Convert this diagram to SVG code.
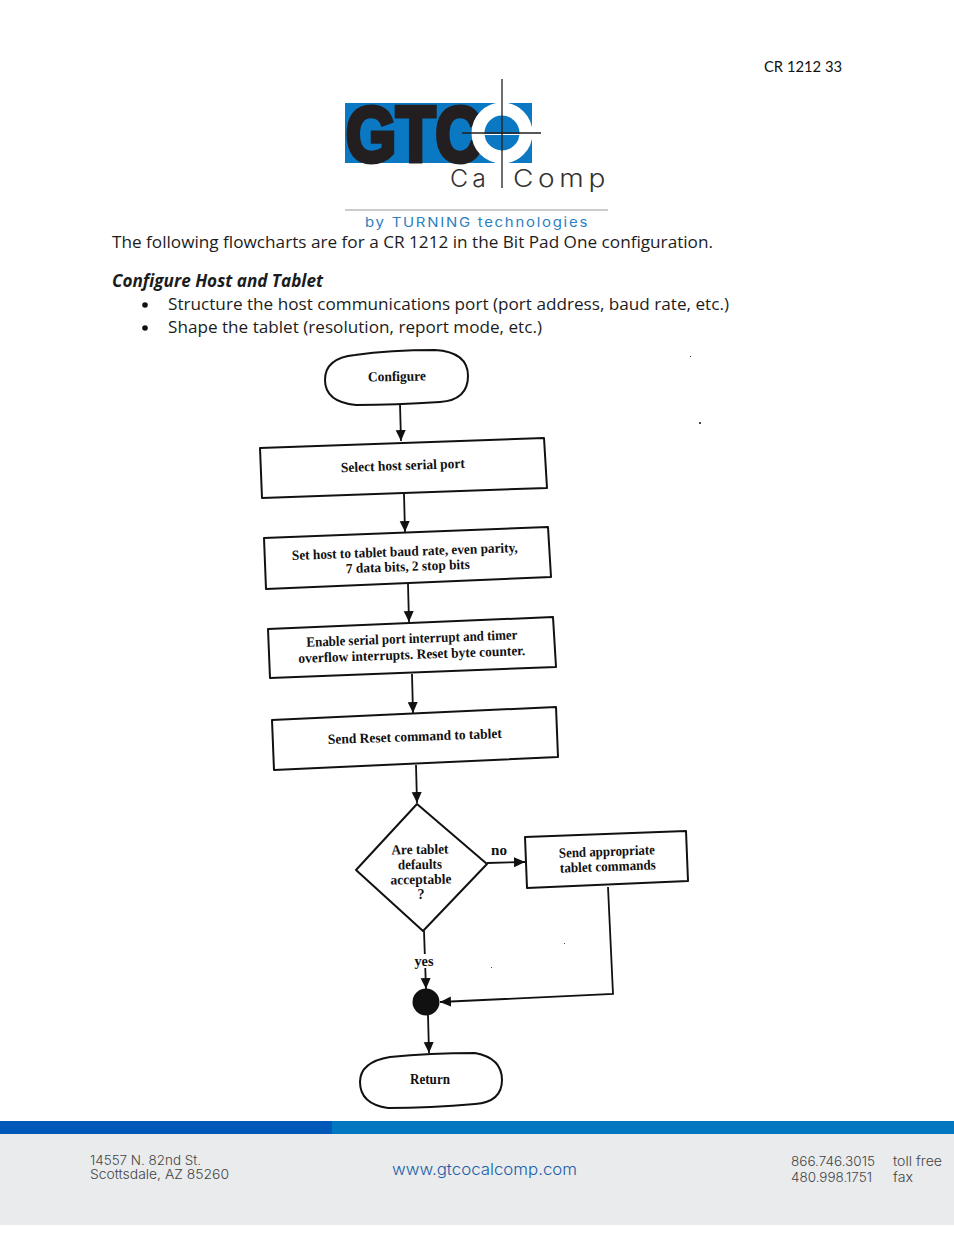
<svg xmlns="http://www.w3.org/2000/svg" width="954" height="1235" viewBox="0 0 954 1235">
<defs>
<marker id="arr" markerUnits="userSpaceOnUse" markerWidth="10" markerHeight="12" refX="11" refY="5" orient="auto"><path d="M0,0 L11,5 L0,10 Z" fill="#111"/></marker>
</defs>
<style>
.body{font-family:"Open Sans",sans-serif;font-size:17px;fill:#1c1c1c}
.fl{font-family:"Liberation Serif",serif;font-size:14px;font-weight:bold;fill:#111;text-anchor:middle}
.box{fill:#fff;stroke:#111;stroke-width:2;stroke-linejoin:round}
.con{fill:none;stroke:#111;stroke-width:1.8;marker-end:url(#arr)}
.foot{font-family:"Inter",sans-serif;font-size:13px;font-weight:300;fill:#444}
.ca{font-family:Inter,sans-serif;font-size:24px;font-weight:300;fill:#333;letter-spacing:4px}
.speck{fill:#444}
</style>
<rect width="954" height="1235" fill="#fff"/>
<text x="764" y="72" textLength="78" lengthAdjust="spacingAndGlyphs" style="font-family:Lato,sans-serif;font-size:15px;fill:#111">CR 1212 33</text>
<g id="logo">
<rect x="345" y="103" width="187" height="60" fill="#0a78c2"/>
<text x="346" y="161" textLength="136" lengthAdjust="spacingAndGlyphs" style="font-family:'Liberation Sans',sans-serif;font-size:78px;font-weight:bold;fill:#231f20;stroke:#231f20;stroke-width:5">GTC</text>
<circle cx="502" cy="133" r="24" fill="#0a78c2" stroke="#fff" stroke-width="13"/>
<rect x="478" y="134" width="47" height="1" fill="#fff"/>
<path d="M502,79V188M462,133H541" stroke="#231f20" stroke-width="1.3" fill="none"/>
<text class="ca" x="450" y="187" textLength="40" lengthAdjust="spacingAndGlyphs">Ca</text>
<text class="ca" x="513" y="187" textLength="97" lengthAdjust="spacingAndGlyphs">Comp</text>
<rect x="345" y="209.500" width="263" height="1" fill="#999"/>
<text x="365" y="227" textLength="224" lengthAdjust="spacingAndGlyphs" style="font-family:Inter,sans-serif;font-size:13px;letter-spacing:1.500px;fill:#2a7fc0">by TURNING technologies</text>
</g>
<g id="intro">
<text class="body" x="112" y="248" textLength="601" lengthAdjust="spacingAndGlyphs">The following flowcharts are for a CR 1212 in the Bit Pad One configuration.</text>
<text class="body" x="112" y="287" textLength="211" lengthAdjust="spacingAndGlyphs" font-weight="bold" font-style="italic">Configure Host and Tablet</text>
<circle cx="145" cy="305" r="2.800" fill="#111"/>
<text class="body" x="168" y="310" textLength="561" lengthAdjust="spacingAndGlyphs">Structure the host communications port (port address, baud rate, etc.)</text>
<circle cx="145" cy="328" r="2.800" fill="#111"/>
<text class="body" x="168" y="333" textLength="374" lengthAdjust="spacingAndGlyphs">Shape the tablet (resolution, report mode, etc.)</text>
</g>
<g id="connectors">
<path class="con" d="M400,404L401,441"/>
<path class="con" d="M404,494L405,532"/>
<path class="con" d="M408,584L409,622"/>
<path class="con" d="M412,674L413,713"/>
<path class="con" d="M416,765L417,803"/>
<path class="con" d="M487,863L525,862"/>
<path class="con" d="M424,931L426,989"/>
<path class="con" d="M608,887L613,994L440,1002"/>
<path class="con" d="M428,1015L429,1053"/>
</g>
<g id="n-configure">
<path class="box" d="M355,355 Q390,350 435,350 Q468,352 468,376 Q468,400 440,402 Q395,405 356,405 Q325,402 325,380 Q325,358 355,355Z"/>
<text class="fl" x="397" y="381" transform="rotate(-1 397 381)" textLength="58" lengthAdjust="spacingAndGlyphs">Configure</text>
</g>
<g id="n-select">
<polygon class="box" points="260,448 544,438 547,488 262,498"/>
<text class="fl" x="403" y="470" transform="rotate(-2 403 470)" textLength="124" lengthAdjust="spacingAndGlyphs">Select host serial port</text>
</g>
<g id="n-set">
<polygon class="box" points="264,538 548,527 551,577 266,589"/>
<text class="fl" x="405" y="556" transform="rotate(-2 405 556)" textLength="226" lengthAdjust="spacingAndGlyphs">Set host to tablet baud rate, even parity,</text>
<text class="fl" x="408" y="571" transform="rotate(-2 408 571)" textLength="124" lengthAdjust="spacingAndGlyphs">7 data bits, 2 stop bits</text>
</g>
<g id="n-enable">
<polygon class="box" points="268,629 553,617 556,667 270,678"/>
<text class="fl" x="412" y="643" transform="rotate(-2 412 643)" textLength="211" lengthAdjust="spacingAndGlyphs">Enable serial port interrupt and timer</text>
<text class="fl" x="412" y="659" transform="rotate(-2 412 659)" textLength="227" lengthAdjust="spacingAndGlyphs">overflow interrupts. Reset byte counter.</text>
</g>
<g id="n-reset">
<polygon class="box" points="272,720 556,707 558,757 274,770"/>
<text class="fl" x="415" y="741" transform="rotate(-2 415 741)" textLength="174" lengthAdjust="spacingAndGlyphs">Send Reset command to tablet</text>
</g>
<g id="n-decision">
<polygon class="box" points="417,804 487,864 423,931 356,870"/>
<text class="fl" x="420" y="854" transform="rotate(-1 420 854)" textLength="57" lengthAdjust="spacingAndGlyphs">Are tablet</text>
<text class="fl" x="420" y="869" transform="rotate(-1 420 869)" textLength="44" lengthAdjust="spacingAndGlyphs">defaults</text>
<text class="fl" x="421" y="884" transform="rotate(-1 421 884)" textLength="61" lengthAdjust="spacingAndGlyphs">acceptable</text>
<text class="fl" x="421" y="899">?</text>
</g>
<g id="n-commands">
<polygon class="box" points="525,837 686,831 688,881 527,888"/>
<text class="fl" x="607" y="856" transform="rotate(-2 607 856)" textLength="96" lengthAdjust="spacingAndGlyphs">Send appropriate</text>
<text class="fl" x="608" y="871" transform="rotate(-2 608 871)" textLength="96" lengthAdjust="spacingAndGlyphs">tablet commands</text>
</g>
<g id="n-merge"><circle cx="426" cy="1002" r="13.500" fill="#111"/></g>
<g id="n-return">
<path class="box" d="M390,1057 Q430,1053 475,1053 Q502,1058 502,1080 Q502,1102 475,1104 Q430,1108 388,1108 Q360,1104 360,1082 Q360,1062 390,1057Z"/>
<text class="fl" x="430" y="1084" textLength="40" lengthAdjust="spacingAndGlyphs">Return</text>
</g>
<g id="labels">
<text class="fl" x="499" y="855" textLength="16" lengthAdjust="spacingAndGlyphs">no</text>
<rect x="413" y="954" width="22" height="14" fill="#fff"/>
<text class="fl" x="424" y="966" textLength="19" lengthAdjust="spacingAndGlyphs">yes</text>
</g>
<g id="specks">
<rect class="speck" x="690" y="356" width="1" height="1"/>
<rect class="speck" x="699" y="422" width="2" height="2"/>
<rect class="speck" x="564" y="943" width="1" height="1"/>
<rect class="speck" x="491" y="967" width="1" height="1"/>
</g>
<g id="footer">
<rect x="0" y="1134" width="954" height="91" fill="#e9ebed"/>
<rect x="0" y="1121" width="954" height="13" fill="#0078c1"/>
<rect x="0" y="1121" width="332" height="13" fill="#0058b8"/>
<text class="foot" x="90" y="1165" textLength="111" lengthAdjust="spacingAndGlyphs">14557 N. 82nd St.</text>
<text class="foot" x="90" y="1179" textLength="139" lengthAdjust="spacingAndGlyphs">Scottsdale, AZ 85260</text>
<text x="392" y="1175" textLength="185" lengthAdjust="spacingAndGlyphs" style="font-family:Inter,sans-serif;font-size:16px;font-weight:300;fill:#1a5ea8">www.gtcocalcomp.com</text>
<text class="foot" x="791" y="1166" textLength="84" lengthAdjust="spacingAndGlyphs">866.746.3015</text>
<text class="foot" x="791" y="1182" textLength="81" lengthAdjust="spacingAndGlyphs">480.998.1751</text>
<text class="foot" x="893" y="1166" textLength="49" lengthAdjust="spacingAndGlyphs">toll free</text>
<text class="foot" x="893" y="1182" textLength="20" lengthAdjust="spacingAndGlyphs">fax</text>
</g>
</svg>
